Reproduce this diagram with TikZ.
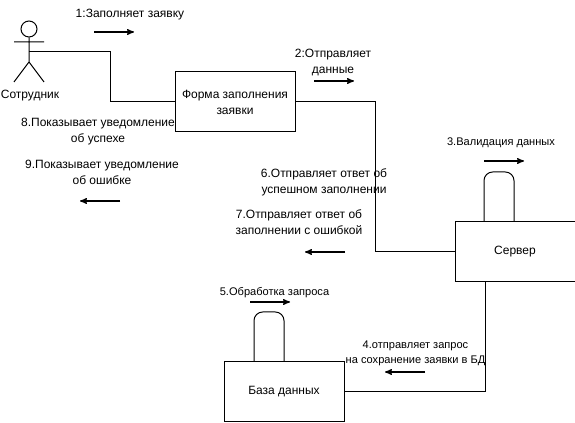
\documentclass[tikz,border=0pt]{standalone}
\usepackage{fontspec}
\setmainfont{Liberation Sans}
\usetikzlibrary{arrows}
\usetikzlibrary{positioning}

\begin{document}
\begin{tikzpicture}[x=.75pt,y=-.75pt,>=stealth',font=\fontsize{9}{12}\selectfont,line width=.75pt]
	\tikzstyle{block}=[draw, minimum width=90pt, minimum height=45pt, inner sep=0pt, align=center]
	\tikzstyle{lab}=[inner sep=0pt, align=center]
	\tikzstyle{smalllab}=[lab, font=\fontsize{8.3}{11.5}\selectfont]
	\tikzstyle{dir}=[->, line width=.9pt]
	\useasboundingbox (0,0) rectangle (575,423);
	% blocks
	\node[block] (Form) at (235,102) {Форма заполнения\\заявки};
	\node[block] (Server) at (515,252) {Сервер};
	\node[block] (Base) at (284,392) {База данных};
	% actor
	\node[draw, circle, minimum size=12pt, inner sep=0pt] (Head) at (29,29) {};
	\coordinate (Hip) at (29,62);
	\coordinate (Hand) at (29,52);
	\coordinate (ArmL) at (14,42);
	\coordinate (ArmR) at (44,42);
	\coordinate (LegL) at (14,82);
	\coordinate (LegR) at (44,82);
	\node[lab] (Worker) at (30,96) {Сотрудник};
	\draw (Head) -- (Hip) -- (LegL) (Hip) -- (LegR) (ArmL) -- (ArmR);
	% links
	\draw (Hand) -- ++(81,0) |- (Form.west);
	\draw (Form.east) -- ++(80,0) |- (Server.west);
	\coordinate (ServerOut) at (485,282);
	\draw (ServerOut) |- (Base.east);
	% loops
	\coordinate (SrvA) at (484,222);
	\coordinate (SrvB) at (514,222);
	\coordinate (BaseA) at (254,362);
	\coordinate (BaseB) at (284,362);
	\draw[rounded corners=6.5pt] (SrvA) -- ++(0,-50) -- ++(30,0) -- (SrvB);
	\draw[rounded corners=6.5pt] (BaseA) -- ++(0,-50) -- ++(30,0) -- (BaseB);
	% labels
	\node[lab] (L1) at (130,15) {1:Заполняет заявку};
	\node[lab] (L2) at (333,62.5) {2:Отправляет\\данные};
	\node[smalllab] (L3) at (501,143) {3.Валидация данных};
	\node[smalllab, fill=white, inner ysep=1pt] (L4) at (415.5,353.5) {4.отправляет запрос\\на сохранение заявки в БД};
	\node[smalllab] (L5) at (274.5,293) {5.Обработка запроса};
	\node[lab] (L6) at (324,182.5) {6.Отправляет ответ об\\успешном заполнении};
	\node[lab] (L7) at (299,222.5) {7.Отправляет ответ об\\заполнении с ошибкой};
	\node[lab] (L8) at (98,132) {8.Показывает уведомление\\об успехе};
	\node[lab] (L9) at (102,172) {9.Показывает уведомление\\об ошибке};
	% message arrows
	\coordinate (A1) at (94,32);
	\coordinate (B1) at (134,32);
	\coordinate (A2) at (314,81);
	\coordinate (B2) at (354,81);
	\coordinate (A3) at (484,161);
	\coordinate (B3) at (524,161);
	\coordinate (A4) at (425,372);
	\coordinate (B4) at (385,372);
	\coordinate (A5) at (250,302);
	\coordinate (B5) at (290,302);
	\coordinate (A6) at (345,252);
	\coordinate (B6) at (305,252);
	\coordinate (A8) at (120,201);
	\coordinate (B8) at (80,201);
	\foreach \n in {1,2,3,4,5,6,8}
		\draw[dir] (A\n) -- (B\n);
\end{tikzpicture}
\end{document}
